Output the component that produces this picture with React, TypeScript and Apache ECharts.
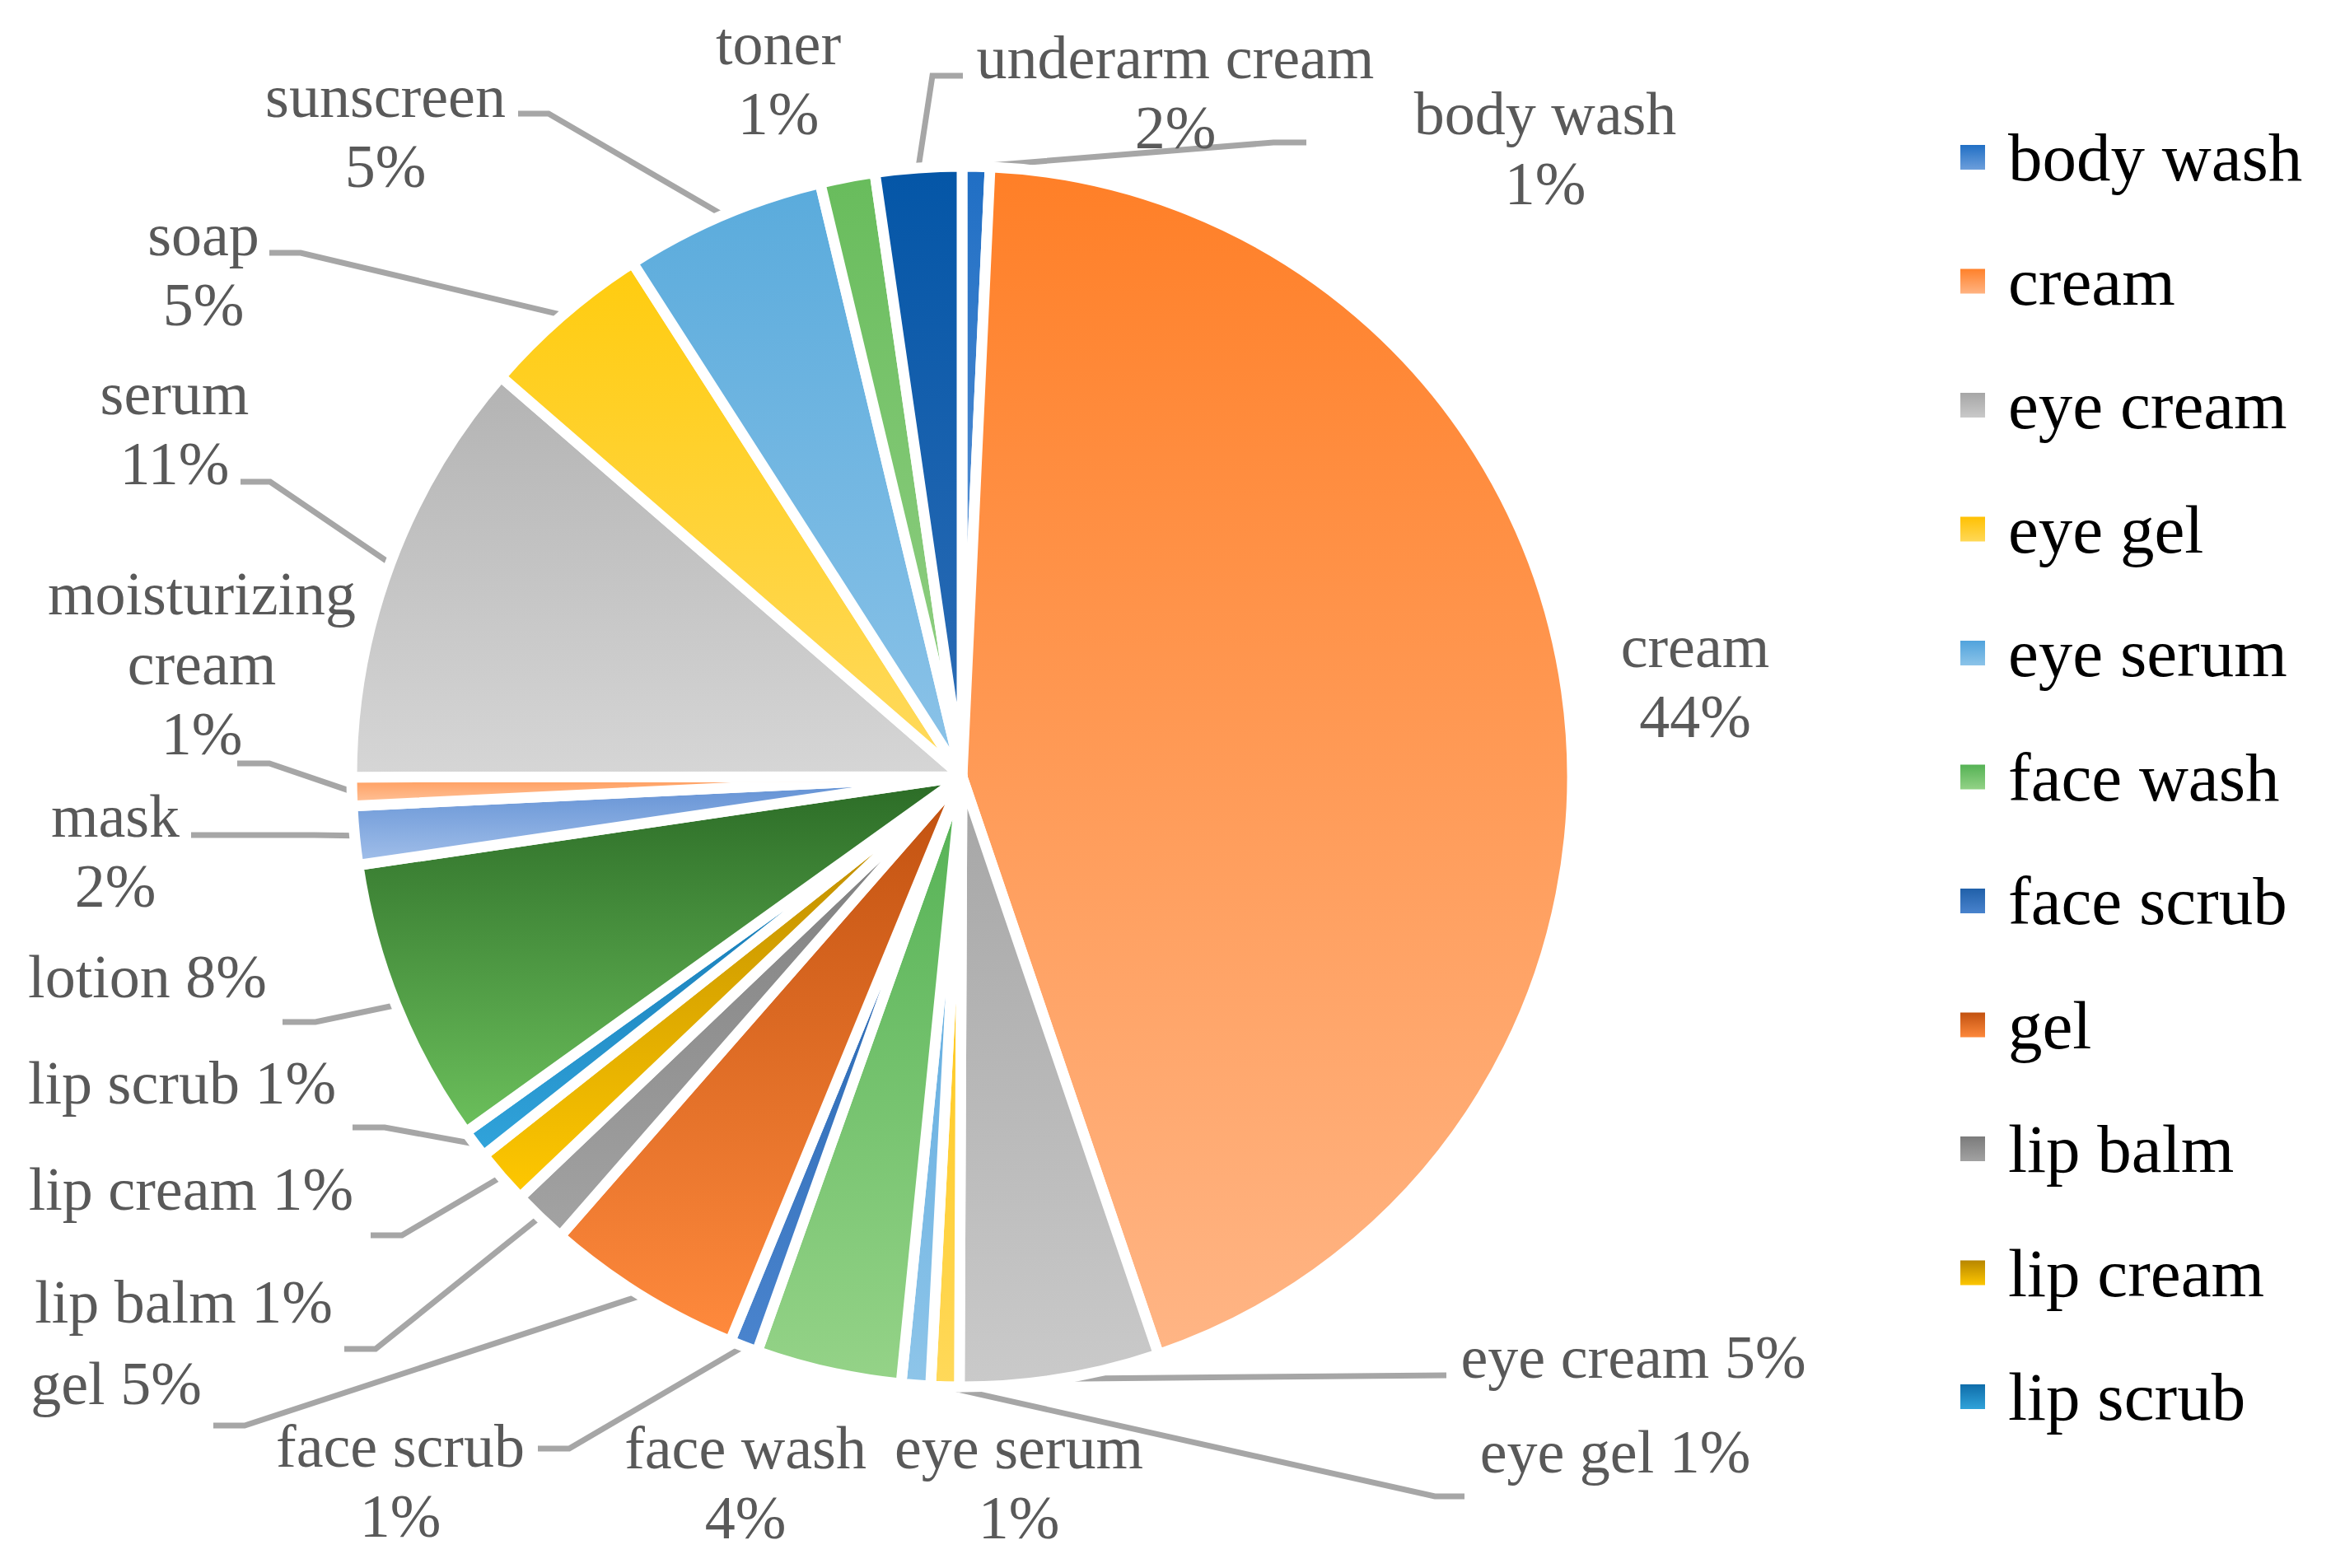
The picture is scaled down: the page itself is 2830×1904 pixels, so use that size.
import React, { useEffect, useRef } from 'react';
import * as echarts from 'echarts';

// ---- data ----
const categories = [
  'body wash', 'cream', 'eye cream', 'eye gel', 'eye serum', 'face wash', 'face scrub',
  'gel', 'lip balm', 'lip cream', 'lip scrub', 'lotion', 'mask', 'moisturizing cream',
  'serum', 'soap', 'sunscreen', 'toner', 'underarm cream',
];
const shares = [
  0.73, 43.99, 5.28, 0.75, 0.77, 3.85, 0.75,
  5.23, 1.45, 1.45, 0.76, 7.57, 1.55, 0.75,
  11.37, 4.55, 5.33, 1.45, 2.28,
];
const topColors = [
  '#1F6EC4', '#FF7F27', '#A5A5A5', '#FFC000', '#4FA2DC', '#53B153', '#1F5FA8',
  '#C0500F', '#7A7A7A', '#B58400', '#0E6BA8', '#2B6B26', '#5E8ED3', '#FF9A58',
  '#B3B3B3', '#FFCC0F', '#5AABDC', '#68BC5C', '#0456A7',
];
const bottomColors = [
  '#6FA0DC', '#FFB585', '#CACACA', '#FFD95A', '#8EC5E9', '#95D388', '#4A84CE',
  '#FF8A3D', '#A3A3A3', '#FFC800', '#31A4DB', '#6CC05C', '#A3C0EA', '#FFC6A0',
  '#D6D6D6', '#FFDA5F', '#8CC3E8', '#95D187', '#2E6DB6',
];
const legendNames = categories.slice(0, 11);
const inlineLabels = ['eye cream', 'eye gel', 'gel', 'lip balm', 'lip cream', 'lip scrub', 'lotion'];
const noLeader = ['cream', 'toner', 'face wash', 'eye serum'];

// ---- label placement (centre x, centre y, bend x, bend y, end x, end y) ----
const labelSpots: Record<string, number[]> = {
  'body wash': [1876, 180, 1546, 173, 1586, 173],
  'cream': [2058, 827],
  'eye cream': [1983, 1648, 1523, 1672, 1756, 1670],
  'eye gel': [1961, 1763, 1742, 1817, 1778, 1817],
  'eye serum': [1237, 1800],
  'face wash': [905, 1800],
  'face scrub': [486, 1798, 691, 1759, 653, 1759],
  'gel': [141, 1680, 297, 1731, 259, 1731],
  'lip balm': [223, 1581, 456, 1638, 418, 1638],
  'lip cream': [232, 1444, 488, 1500, 450, 1500],
  'lip scrub': [221, 1315, 467, 1369, 428, 1369],
  'lotion': [179, 1186, 383, 1241, 343, 1241],
  'mask': [140, 1033, 382, 1014, 232, 1014],
  'moisturizing cream': [245, 806, 327, 927, 288, 927],
  'serum': [212, 520, 328, 585, 292, 585],
  'soap': [247, 327, 365, 307, 327, 307],
  'sunscreen': [468, 159, 666, 138, 629, 138],
  'toner': [945, 95],
  'underarm cream': [1427, 112, 1132, 92, 1169, 92],
};

const FONT = "'Liberation Serif', 'Times New Roman', serif";
const leaderStyle = { color: '#A6A6A6', width: 7 };

export default function App() {
  const ref = useRef<HTMLDivElement>(null);
  useEffect(() => {
    if (!ref.current) return;
    const chart = echarts.init(ref.current, undefined, { renderer: 'svg' });
    const data = categories.map((name, i) => ({
      name,
      value: shares[i],
      itemStyle: {
        color: new echarts.graphic.LinearGradient(0, 0, 0, 1, [
          { offset: 0, color: topColors[i] },
          { offset: 1, color: bottomColors[i] },
        ]),
      },
      labelLine: {
        show: noLeader.indexOf(name) < 0,
        smooth: false,
        lineStyle: leaderStyle,
      },
    }));
    chart.setOption({
      animation: false,
      backgroundColor: '#ffffff',
      legend: {
        orient: 'vertical',
        left: 2378,
        top: 146,
        padding: 0,
        data: legendNames,
        icon: 'rect',
        itemWidth: 32,
        itemHeight: 32,
        itemGap: 60.5,
        selectedMode: false,
        textStyle: {
          fontFamily: FONT,
          fontSize: 83,
          lineHeight: 90,
          color: '#000000',
          padding: [0, 0, 0, 22],
        },
      },
      series: [
        {
          type: 'pie',
          center: [1168, 943],
          radius: 741,
          startAngle: 90,
          clockwise: true,
          avoidLabelOverlap: false,
          minShowLabelAngle: 0,
          itemStyle: { borderColor: '#ffffff', borderWidth: 13 },
          label: {
            show: true,
            position: 'outside',
            color: '#595959',
            fontFamily: FONT,
            fontSize: 74,
            lineHeight: 85,
            formatter: (p: any) => {
              const pct = Math.round(p.percent) + '%';
              if (inlineLabels.indexOf(p.name) >= 0) return p.name + ' ' + pct;
              const nm = p.name === 'moisturizing cream' ? 'moisturizing\ncream' : p.name;
              return nm + '\n' + pct;
            },
          },
          labelLine: {
            show: true,
            length: 20,
            length2: 20,
            smooth: false,
            lineStyle: leaderStyle,
          },
          labelLayout: (p: any) => {
            const name = categories[p.dataIndex];
            const s = labelSpots[name];
            const res: any = { x: s[0], y: s[1], align: 'center', verticalAlign: 'middle' };
            if (s.length > 2 && p.labelLinePoints) {
              res.labelLinePoints = [p.labelLinePoints[0], [s[2], s[3]], [s[4], s[5]]];
            }
            return res;
          },
          emphasis: { disabled: true },
          data,
        },
      ],
    });
    return () => chart.dispose();
  }, []);
  return (
    <div
      ref={ref}
      style={{ position: 'fixed', left: 0, top: 0, width: 2830, height: 1904, background: '#fff' }}
    />
  );
}
